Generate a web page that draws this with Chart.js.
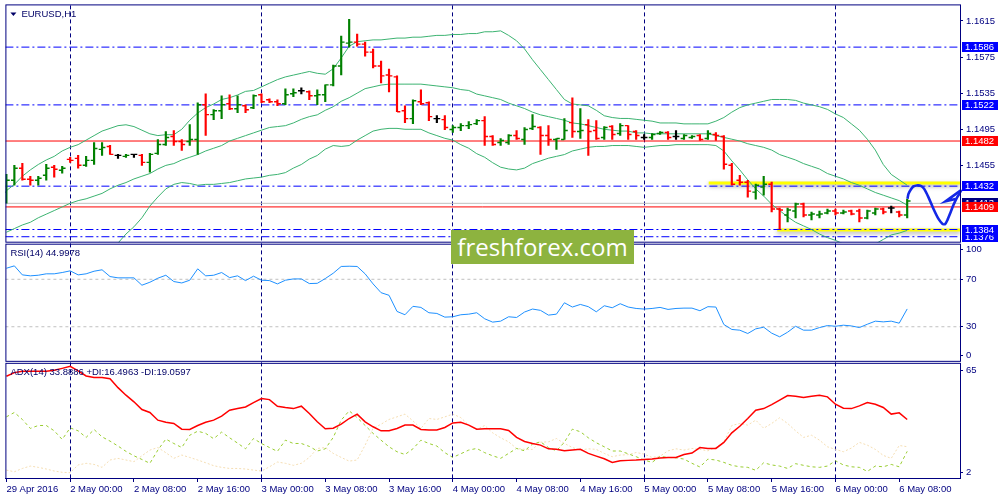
<!DOCTYPE html>
<html>
<head>
<meta charset="utf-8">
<title>EURUSD,H1</title>
<script src="https://cdn.jsdelivr.net/npm/chart.js@4.4.0/dist/chart.umd.min.js"></script>
<style>
  html, body { margin: 0; padding: 0; background: #fff; }
  #wrap { position: relative; width: 1000px; height: 500px; }
  .watermark {
    position: absolute; left: 451px; top: 230px; width: 183px; height: 34px;
    background: #8db33f; color: #fff; font: 24px "Open Sans", sans-serif;
    line-height: 33px; text-align: center; box-sizing: border-box;
  }
</style>
</head>
<body>
<div id="wrap">
  <canvas id="chart"></canvas>
  <div class="watermark">freshforex.com</div>
</div>
<script>
// --- data (one value per H1 bar, 29 Apr 16:00 .. 6 May 09:00) ---
const timeLabels = ['29 Apr 2016', '2 May 00:00', '2 May 08:00', '2 May 16:00', '3 May 00:00',
  '3 May 08:00', '3 May 16:00', '4 May 00:00', '4 May 08:00', '4 May 16:00', '5 May 00:00',
  '5 May 08:00', '5 May 16:00', '6 May 00:00', '6 May 08:00'];
const timeTickBars = [0, 8, 16, 24, 32, 40, 48, 56, 64, 72, 80, 88, 96, 104, 112];
const daySeparatorBars = [8, 32, 56, 80, 104];

const opens = [1.14254,1.14386,1.14518,1.14397,1.14386,1.14441,1.14529,1.14496,1.14617,1.14628,
  1.14551,1.14606,1.14727,1.14760,1.14661,1.14650,1.14672,1.14661,1.14584,1.14683,
  1.14782,1.14870,1.14815,1.14815,1.14837,1.15222,1.15112,1.15156,1.15233,1.15178,
  1.15211,1.15189,1.15332,1.15277,1.15255,1.15233,1.15343,1.15376,1.15365,1.15321,
  1.15332,1.15442,1.15651,1.15904,1.15915,1.15893,1.15805,1.15651,1.15552,1.15530,
  1.15156,1.15068,1.15255,1.15244,1.15068,1.15057,1.14947,1.14969,1.14991,1.15013,
  1.15046,1.14870,1.14804,1.14804,1.14881,1.14837,1.14958,1.14969,1.14881,1.14837,
  1.14837,1.15024,1.14925,1.15002,1.14936,1.14859,1.14980,1.14903,1.14991,1.14925,
  1.14859,1.14859,1.14903,1.14914,1.14870,1.14848,1.14859,1.14881,1.14848,1.14892,
  1.14870,1.14551,1.14386,1.14364,1.14254,1.14309,1.14342,1.14067,1.14001,1.14045,
  1.14122,1.14001,1.14001,1.14023,1.14045,1.14023,1.14045,1.14045,1.13968,1.14023,
  1.14067,1.14078,1.14034,1.14001];
const highs = [1.14452,1.14551,1.14573,1.14430,1.14430,1.14562,1.14551,1.14540,1.14639,1.14661,
  1.14650,1.14804,1.14804,1.14771,1.14672,1.14672,1.14672,1.14672,1.14683,1.14837,
  1.14925,1.14936,1.14837,1.15002,1.15244,1.15343,1.15167,1.15321,1.15332,1.15321,
  1.15222,1.15332,1.15343,1.15288,1.15277,1.15398,1.15398,1.15409,1.15376,1.15387,
  1.15442,1.15662,1.15981,1.16168,1.16003,1.15915,1.15838,1.15706,1.15618,1.15541,
  1.15211,1.15277,1.15387,1.15255,1.15101,1.15101,1.14991,1.15013,1.15035,1.15057,
  1.15090,1.14881,1.14848,1.14892,1.14936,1.14969,1.15112,1.14980,1.14991,1.14848,
  1.15068,1.15299,1.15178,1.15057,1.15046,1.14980,1.14991,1.15013,1.14991,1.14936,
  1.14892,1.14903,1.14925,1.14925,1.14936,1.14892,1.14881,1.14892,1.14936,1.14914,
  1.14881,1.14573,1.14441,1.14386,1.14342,1.14430,1.14364,1.14078,1.14078,1.14133,
  1.14133,1.14034,1.14045,1.14067,1.14067,1.14056,1.14056,1.14067,1.14056,1.14078,
  1.14078,1.14100,1.14045,1.14177];
const lows = [1.14133,1.14331,1.14386,1.14331,1.14331,1.14386,1.14419,1.14463,1.14584,1.14518,
  1.14540,1.14562,1.14661,1.14672,1.14628,1.14639,1.14639,1.14551,1.14474,1.14672,
  1.14771,1.14771,1.14716,1.14771,1.14672,1.14881,1.15057,1.15068,1.15167,1.15134,
  1.15134,1.15178,1.15244,1.15244,1.15211,1.15222,1.15310,1.15343,1.15277,1.15222,
  1.15255,1.15431,1.15552,1.15860,1.15871,1.15761,1.15629,1.15464,1.15365,1.15145,
  1.15024,1.15013,1.15222,1.15046,1.15024,1.14947,1.14914,1.14936,1.14958,1.15002,
  1.14771,1.14771,1.14771,1.14782,1.14837,1.14782,1.14947,1.14672,1.14771,1.14727,
  1.14837,1.14859,1.14848,1.14661,1.14837,1.14837,1.14837,1.14881,1.14837,1.14837,
  1.14837,1.14837,1.14892,1.14837,1.14837,1.14837,1.14848,1.14826,1.14837,1.14826,
  1.14507,1.14331,1.14331,1.14199,1.14177,1.14221,1.14034,1.13847,1.13924,1.13968,
  1.13979,1.13946,1.13968,1.14012,1.14001,1.14012,1.14001,1.13924,1.13957,1.14001,
  1.14012,1.14023,1.13979,1.13968];
const closes = [1.14386,1.14518,1.14397,1.14386,1.14408,1.14518,1.14507,1.14518,1.14606,1.14551,
  1.14606,1.14738,1.14749,1.14672,1.14661,1.14661,1.14672,1.14584,1.14672,1.14782,
  1.14859,1.14815,1.14782,1.14837,1.15222,1.15112,1.15156,1.15222,1.15178,1.15222,
  1.15167,1.15321,1.15255,1.15255,1.15233,1.15332,1.15354,1.15376,1.15321,1.15332,
  1.15442,1.15651,1.15915,1.15915,1.15893,1.15805,1.15651,1.15541,1.15541,1.15145,
  1.15068,1.15266,1.15233,1.15090,1.15068,1.14969,1.14969,1.14991,1.15002,1.15046,
  1.14870,1.14782,1.14826,1.14881,1.14848,1.14947,1.14980,1.14881,1.14837,1.14848,
  1.14936,1.14925,1.14936,1.14925,1.14848,1.14969,1.14892,1.14991,1.14892,1.14881,
  1.14859,1.14892,1.14914,1.14859,1.14870,1.14881,1.14870,1.14837,1.14903,1.14881,
  1.14562,1.14342,1.14364,1.14265,1.14331,1.14342,1.14067,1.14056,1.14056,1.14122,
  1.14001,1.14012,1.14012,1.14045,1.14023,1.14034,1.14012,1.13968,1.14045,1.14067,
  1.14034,1.14078,1.14001,1.14155];

const bbUpper = [1.1427,1.1434,1.1443,1.1450,1.1456,1.1461,1.1465,1.1471,1.1475,1.1478,
  1.1483,1.1488,1.1493,1.1496,1.1499,1.1500,1.1498,1.1494,1.1490,1.1488,
  1.1489,1.1489,1.1495,1.1505,1.1513,1.1519,1.1523,1.1528,1.1530,1.1533,
  1.1537,1.1538,1.1542,1.1546,1.1550,1.1553,1.1555,1.1557,1.1559,1.1557,
  1.1556,1.1562,1.1574,1.1587,1.1592,1.1593,1.1594,1.1594,1.1595,1.1596,
  1.1596,1.1597,1.1597,1.1598,1.1599,1.1599,1.1600,1.1600,1.1601,1.1601,
  1.1603,1.1603,1.1604,1.1599,1.1593,1.1584,1.1572,1.1561,1.1550,1.1539,
  1.1528,1.1523,1.1522,1.1521,1.1516,1.1510,1.1508,1.1507,1.1507,1.1506,
  1.1505,1.1504,1.1502,1.1502,1.1502,1.1501,1.1501,1.1501,1.1501,1.1504,
  1.1508,1.1514,1.1519,1.1522,1.1524,1.1526,1.1528,1.1528,1.1528,1.1527,
  1.1524,1.1522,1.1520,1.1517,1.1512,1.1508,1.1501,1.1494,1.1484,1.1472,
  1.1456,1.1445,1.1439,1.1433];
const bbMiddle = [1.1381,1.1385,1.1389,1.1392,1.1397,1.1401,1.1405,1.1409,1.1413,1.1416,
  1.1418,1.1421,1.1424,1.1429,1.1433,1.1436,1.1440,1.1443,1.1446,1.1451,
  1.1455,1.1457,1.1461,1.1464,1.1467,1.1471,1.1474,1.1477,1.1482,1.1485,
  1.1488,1.1491,1.1494,1.1497,1.1498,1.1499,1.1502,1.1506,1.1509,1.1511,
  1.1516,1.1520,1.1526,1.1530,1.1535,1.1540,1.1542,1.1544,1.1545,1.1545,
  1.1545,1.1545,1.1545,1.1544,1.1543,1.1542,1.1541,1.1539,1.1538,1.1534,
  1.1532,1.1530,1.1528,1.1524,1.1521,1.1518,1.1514,1.1511,1.1509,1.1507,
  1.1505,1.1502,1.1501,1.1499,1.1497,1.1495,1.1494,1.1493,1.1493,1.1491,
  1.1491,1.1490,1.1490,1.1490,1.1490,1.1490,1.1490,1.1490,1.1490,1.1488,
  1.1486,1.1484,1.1482,1.1479,1.1477,1.1475,1.1472,1.1467,1.1464,1.1461,
  1.1457,1.1454,1.1451,1.1446,1.1443,1.1440,1.1436,1.1433,1.1429,1.1425,
  1.1422,1.1419,1.1416,1.1411];
const bbLower = [1.1336,1.1335,1.1335,1.1335,1.1337,1.1342,1.1344,1.1347,1.1352,1.1353,
  1.1353,1.1354,1.1356,1.1362,1.1369,1.1379,1.1387,1.1397,1.1410,1.1420,
  1.1429,1.1434,1.1436,1.1435,1.1433,1.1434,1.1434,1.1435,1.1436,1.1438,
  1.1440,1.1441,1.1442,1.1444,1.1445,1.1447,1.1452,1.1456,1.1462,1.1466,
  1.1473,1.1477,1.1476,1.1477,1.1483,1.1488,1.1493,1.1495,1.1496,1.1496,
  1.1495,1.1495,1.1495,1.1491,1.1488,1.1485,1.1483,1.1478,1.1474,1.1468,
  1.1464,1.1458,1.1453,1.1451,1.1450,1.1452,1.1457,1.1460,1.1463,1.1465,
  1.1467,1.1471,1.1473,1.1475,1.1476,1.1476,1.1477,1.1477,1.1477,1.1476,
  1.1475,1.1476,1.1477,1.1477,1.1478,1.1478,1.1478,1.1478,1.1478,1.1477,
  1.1471,1.1460,1.1450,1.1439,1.1429,1.1421,1.1412,1.1405,1.1398,1.1392,
  1.1388,1.1384,1.1379,1.1375,1.1372,1.1368,1.1366,1.1365,1.1366,1.1368,
  1.1373,1.1378,1.1380,1.1383];

const rsi = [79.3,81.3,73.7,72.9,73.4,74.6,74.6,75.7,77.1,73.7,
  74.6,76.8,78.0,72.3,71.2,71.2,71.2,65.0,67.5,70.9,
  73.4,68.1,66.9,69.2,78.8,72.9,73.4,75.7,71.4,72.9,
  68.9,72.6,69.2,68.9,66.1,69.2,70.3,70.3,66.4,66.6,
  70.6,75.1,80.8,81.0,80.8,74.6,66.1,58.7,56.5,42.9,
  40.1,47.2,46.3,41.8,41.2,38.1,38.4,40.1,40.6,41.8,
  36.7,33.9,34.7,38.4,37.8,42.4,44.9,43.8,39.8,40.6,
  50.2,46.6,48.8,46.9,42.6,47.7,46.0,49.4,46.6,45.4,
  44.9,45.4,46.3,44.6,45.4,45.7,45.7,43.5,46.9,46.6,
  31.9,27.7,27.1,24.3,28.2,29.6,24.6,21.5,25.4,30.4,
  27.1,27.1,29.3,31.0,30.4,31.3,30.7,29.3,32.1,34.7,
  34.1,34.7,33.0,44.9978];

const adx = [57.4,59.4,60.1,60.1,60.1,60.1,60.7,61.7,62.8,60.3,
  57.6,56.7,56.7,56.1,51.2,47.1,43.5,39.3,37.7,33.5,
  32.4,31.7,28.6,28.4,30.6,32.4,33.5,35.7,38.9,39.8,
  40.7,43.1,45.3,44.7,41.1,40.4,39.8,41.1,37.1,32.6,
  28.8,29.1,31.3,34.4,36.8,32.6,29.9,27.7,27.7,29.0,
  30.8,30.8,28.4,28.1,28.1,29.5,32.0,32.4,30.8,28.6,
  28.8,28.8,28.8,27.9,24.1,21.9,20.8,19.9,17.9,17.6,
  16.8,17.2,17.6,15.4,13.9,12.5,10.5,11.4,11.6,11.8,
  12.1,12.3,12.9,13.2,13.2,14.8,15.6,18.6,18.1,18.1,
  21.4,26.6,30.2,34.4,38.9,39.8,42.0,44.4,46.9,46.5,
  45.8,46.5,47.1,46.2,42.2,40.0,39.8,41.3,43.1,42.2,
  40.4,36.8,37.5,33.8886];
const plusDI = [35.3,37.7,33.9,29.0,30.6,30.6,27.7,23.0,29.3,27.7,
  24.1,28.4,24.4,22.1,19.4,16.5,14.1,12.1,10.0,17.2,
  23.2,20.8,18.6,25.3,27.5,26.3,23.4,27.0,23.9,21.0,
  17.9,23.5,20.8,18.6,16.5,22.6,20.8,20.8,19.2,16.7,
  17.9,24.1,33.5,38.6,34.9,30.6,26.3,22.6,19.0,16.3,
  14.8,17.9,22.6,20.8,19.4,15.8,13.2,15.2,17.2,18.1,
  15.8,14.1,12.7,15.4,18.1,16.8,20.5,21.7,18.6,16.8,
  21.5,28.6,27.2,23.9,21.2,19.0,16.7,16.7,15.2,13.6,
  11.8,10.5,13.8,13.2,13.0,12.3,10.0,8.0,12.3,11.8,
  10.5,8.9,8.1,7.8,6.2,10.3,9.1,8.5,7.2,9.8,
  8.9,8.1,7.8,8.5,11.4,9.1,8.1,7.8,5.6,8.5,
  8.1,9.4,8.1,16.4963];
const minusDI = [6.3,5.4,7.2,8.5,7.8,6.9,5.8,5.1,4.9,9.1,
  10.0,9.4,7.8,11.8,12.7,11.8,10.9,14.1,17.2,18.6,
  15.8,12.7,14.5,13.2,11.8,10.3,8.7,7.8,7.2,7.2,
  6.9,6.3,5.8,8.1,10.7,10.0,8.9,10.0,13.2,18.1,
  18.6,15.4,13.2,11.2,11.8,19.9,29.0,31.3,33.9,35.3,
  36.8,33.1,29.0,34.4,33.9,35.3,36.8,34.9,30.8,28.4,
  30.6,26.6,23.9,21.7,18.1,17.6,17.6,21.5,21.7,23.5,
  20.8,18.6,17.2,17.9,17.6,15.4,13.6,14.5,14.7,15.9,
  15.0,13.2,13.9,16.8,17.9,17.2,18.1,17.6,16.8,18.6,
  21.7,30.6,31.7,30.8,33.5,29.1,31.7,34.8,31.7,27.7,
  24.1,25.3,22.6,19.0,17.6,16.3,18.3,21.4,19.9,17.6,
  14.3,12.7,19.7,19.0597];

// horizontal levels drawn by the analyst
const blueLevels = [1.1586, 1.1522, 1.1432, 1.1384, 1.1376];
const redLevels = [1.1482, 1.1409];
const bidPrice = 1.1413;
const yellowFrom = [88.1, 96.7];
const yellowPrice = [1.14355, 1.13835];

// hand-drawn forecast curve and its arrow head (bar position, price)
const forecastBars = [113.04,113.16,113.46,113.79,114.21,114.71,115.13,115.66,116.29,
  116.91,117.41,117.75,118.04,118.46,118.79,119.21,119.54,119.81];
const forecastPrices = [1.14180,1.14235,1.14284,1.14317,1.14328,1.14323,1.14290,1.14199,1.14070,
  1.13960,1.13905,1.13899,1.13943,1.14034,1.14108,1.14188,1.14235,1.14279];
const arrowBars = [119.06, 117.81, 119.81];
const arrowPrices = [1.14177, 1.14152, 1.14279];

// axis ticks (MT4 pulls the edge labels of indicator windows inside the pane)
const priceTicks = [1.1615, 1.1575, 1.1535, 1.1495, 1.1455];
const rsiLevels = [70, 30];
const rsiTickValues = [94.9, 70, 30, 5.7];
const rsiTickLabels = ['100', '70', '30', '0'];
const adxTickValues = [60.7, 4.9];
const adxTickLabels = ['65', '2'];

const xMin = -0.125, xMax = 119.625;
const NAVY = '#000080';

Chart.defaults.font.family = '"Liberation Sans", Arial, sans-serif';
Chart.defaults.font.size = 9.5;
Chart.defaults.color = NAVY;

function barColor(i) {
  if (closes[i] > opens[i]) return '#008000';
  if (closes[i] < opens[i]) return '#ff0000';
  return '#000000';
}
function points(xs, ys) { return xs.map((x, i) => ({x: x, y: ys[i]})); }
function series(ys) { return ys.map((y, i) => ({x: i, y: y})); }
function flat(v) { return [{x: xMin, y: v}, {x: xMax, y: v}]; }

const mainClip = {left: 0, top: 0, right: 0, bottom: -1.5};
const datasets = [];

datasets.push({type: 'line', data: points(forecastBars, forecastPrices), yAxisID: 'yMain',
  borderColor: '#1428e6', borderWidth: 2.6, pointRadius: 0, tension: 0.25,
  clip: {left: 0, top: 0, right: 4, bottom: -1.5}, order: 0});
datasets.push({type: 'line', data: points(arrowBars, arrowPrices), yAxisID: 'yMain',
  borderColor: '#1428e6', borderWidth: 2.6, pointRadius: 0,
  clip: {left: 0, top: 0, right: 4, bottom: -1.5}, order: 0});

// OHLC bars: high-low stick, open tick to the left, close tick to the right
datasets.push({type: 'bar', data: highs.map((h, i) => ({x: i, y: [lows[i], h]})), yAxisID: 'yMain',
  backgroundColor: ctx => barColor(ctx.dataIndex), barThickness: 1.5, grouped: false,
  clip: mainClip, order: 1});
datasets.push({type: 'line', data: opens.map((o, i) => ({x: i - 0.22, y: o})), yAxisID: 'yMain',
  showLine: false, pointStyle: 'line', pointRadius: 1.6, pointBorderWidth: 1.4,
  pointBorderColor: ctx => barColor(ctx.dataIndex), clip: mainClip, order: 1});
datasets.push({type: 'line', data: closes.map((c, i) => ({x: i + 0.22, y: c})), yAxisID: 'yMain',
  showLine: false, pointStyle: 'line', pointRadius: 1.6, pointBorderWidth: 1.4,
  pointBorderColor: ctx => barColor(ctx.dataIndex), clip: mainClip, order: 1});

[bbUpper, bbMiddle, bbLower].forEach(b => datasets.push({type: 'line', data: series(b),
  yAxisID: 'yMain', borderColor: '#3cb371', borderWidth: 1, pointRadius: 0, clip: mainClip, order: 2}));

blueLevels.forEach(v => datasets.push({type: 'line', data: flat(v), yAxisID: 'yMain',
  borderColor: '#0000ff', borderWidth: 1, borderDash: [8, 3, 2, 3], pointRadius: 0, clip: mainClip, order: 3}));
redLevels.forEach(v => datasets.push({type: 'line', data: flat(v), yAxisID: 'yMain',
  borderColor: '#ff0000', borderWidth: 1, pointRadius: 0, clip: mainClip, order: 3}));
datasets.push({type: 'line', data: flat(bidPrice), yAxisID: 'yMain',
  borderColor: '#c0c0c0', borderWidth: 1, pointRadius: 0, clip: mainClip, order: 4});
yellowFrom.forEach((x, i) => datasets.push({type: 'line', shadow: true,
  data: [{x: x, y: yellowPrice[i]}, {x: xMax, y: yellowPrice[i]}], yAxisID: 'yMain',
  borderColor: '#ffff00', borderWidth: 3, pointRadius: 0, clip: mainClip, order: 5}));

// RSI window
datasets.push({type: 'line', data: series(rsi), yAxisID: 'yRsi',
  borderColor: '#1e90ff', borderWidth: 1, pointRadius: 0, order: 1});
rsiLevels.forEach(v => datasets.push({type: 'line', data: flat(v), yAxisID: 'yRsi',
  borderColor: '#c0c0c0', borderWidth: 1, borderDash: [3, 3], pointRadius: 0, order: 2}));

// ADX window
datasets.push({type: 'line', data: series(adx), yAxisID: 'yAdx',
  borderColor: '#ff0000', borderWidth: 1.5, pointRadius: 0, order: 1});
datasets.push({type: 'line', data: series(plusDI), yAxisID: 'yAdx',
  borderColor: '#9acd32', borderWidth: 1, borderDash: [3, 3], pointRadius: 0, order: 2});
datasets.push({type: 'line', data: series(minusDI), yAxisID: 'yAdx',
  borderColor: '#f5deb3', borderWidth: 1, borderDash: [2, 2], pointRadius: 0, order: 3});

function paneAxis(weight, min, max, values, labels) {
  return {
    type: 'linear', position: 'right', stack: 'panes', stackWeight: weight, min: min, max: max,
    border: {display: false},
    grid: {drawOnChartArea: false, drawTicks: true, tickLength: 3, tickColor: NAVY},
    ticks: {autoSkip: false, padding: 3, color: NAVY,
      callback: (v, i) => labels ? labels[i] : v.toFixed(4)},
    afterBuildTicks: s => { s.ticks = values.map(v => ({value: v})); },
    afterFit: s => { s.width = 40; s.paddingTop = 0; s.paddingBottom = 0; }
  };
}

const paneDecor = {
  id: 'paneDecor',
  beforeDatasetDraw(chart, args) {
    if (chart.data.datasets[args.index].shadow) {
      const c = chart.ctx;
      c.save();
      c.shadowColor = 'rgba(0,0,0,0.35)';
      c.shadowBlur = 4;
      c.shadowOffsetY = 2;
    }
  },
  afterDatasetDraw(chart, args) {
    if (chart.data.datasets[args.index].shadow) chart.ctx.restore();
  },
  afterDraw(chart) {
    const c = chart.ctx;
    const {left, right} = chart.chartArea;
    const m = chart.scales.yMain, r = chart.scales.yRsi, a = chart.scales.yAdx;
    const w = right - left;
    c.save();
    // pane frames
    c.strokeStyle = NAVY;
    c.lineWidth = 1;
    c.strokeRect(left + 0.5, m.top - 0.5, w, m.bottom - m.top - 1);
    c.strokeRect(left + 0.5, r.top + 0.5, w, r.bottom - r.top - 1.5);
    c.strokeRect(left + 0.5, a.top + 1, w, a.bottom - a.top - 0.5);

    // captions
    c.fillStyle = '#000066';
    c.font = '9.5px "Liberation Sans", Arial, sans-serif';
    c.textBaseline = 'middle';
    c.textAlign = 'left';
    c.beginPath();
    c.moveTo(left + 5, m.top + 7);
    c.lineTo(left + 11, m.top + 7);
    c.lineTo(left + 8, m.top + 10.5);
    c.closePath();
    c.fill();
    c.fillText('EURUSD,H1', left + 16, m.top + 8.5);
    c.fillText('RSI(14) ' + rsi[rsi.length - 1].toFixed(4), left + 5, r.top + 9.5);
    const n = adx.length - 1;
    c.fillText('ADX(14) ' + adx[n].toFixed(4) + ' +DI:' + plusDI[n].toFixed(4) +
      ' -DI:' + minusDI[n].toFixed(4), left + 5, a.top + 10.5);

    // price boxes on the right axis
    c.beginPath();
    c.rect(0, 0, chart.width, m.bottom - 1.5);
    c.clip();
    const boxes = [
      [blueLevels[4], '#0000ff'], [blueLevels[3], '#0000ff'], [blueLevels[2], '#0000ff'],
      [bidPrice, NAVY], [redLevels[1], '#ff0000'], [redLevels[0], '#ff0000'],
      [blueLevels[1], '#0000ff'], [blueLevels[0], '#0000ff']];
    boxes.forEach(([v, col]) => {
      const y = Math.round(m.getPixelForValue(v));
      c.fillStyle = col;
      c.fillRect(right + 2, y - 5, 36, 10);
      c.fillStyle = '#ffffff';
      c.fillText(v.toFixed(4), right + 5, y + 0.5);
    });
    c.restore();
  }
};

new Chart(document.getElementById('chart'), {
  type: 'line',
  data: {datasets: datasets},
  options: {
    responsive: true,
    maintainAspectRatio: false,
    animation: false,
    events: [],
    layout: {padding: {left: 2, top: 2, right: 0, bottom: 0}},
    plugins: {legend: {display: false}, tooltip: {enabled: false}},
    scales: {
      x: {
        type: 'linear', position: 'bottom', min: xMin, max: xMax, offset: false,
        border: {display: true, color: NAVY, width: 1, dash: [4, 3]},
        grid: {
          offset: false,
          color: ctx => (ctx.tick && daySeparatorBars.includes(ctx.tick.value)) ? NAVY : 'rgba(0,0,0,0)',
          tickColor: NAVY, tickLength: 4, tickBorderDash: []
        },
        ticks: {autoSkip: false, maxRotation: 0, align: 'start', padding: 2, color: NAVY,
          callback: (v, i) => timeLabels[i]},
        afterBuildTicks: s => { s.ticks = timeTickBars.map(v => ({value: v})); },
        afterFit: s => { s.height = 22; s.paddingLeft = 0; s.paddingRight = 0; }
      },
      yMain: paneAxis(240, 1.13683, 1.16322, priceTicks, null),
      yRsi: paneAxis(119.5, 0, 100, rsiTickValues, rsiTickLabels),
      yAdx: paneAxis(116.5, 2, 65, adxTickValues, adxTickLabels)
    }
  },
  plugins: [paneDecor]
});
</script>
</body>
</html>
